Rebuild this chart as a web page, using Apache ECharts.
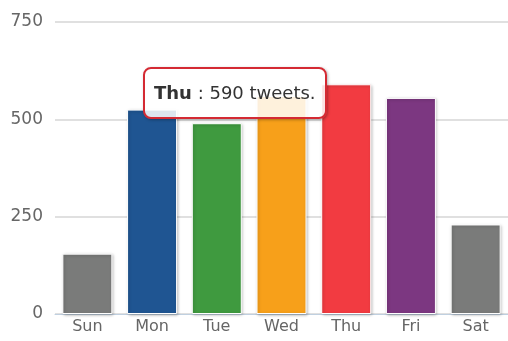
<!DOCTYPE html>
<html>
<head>
<meta charset="utf-8">
<script src="https://cdn.jsdelivr.net/npm/echarts@6/dist/echarts.min.js"></script>
<style>
  html, body { margin: 0; padding: 0; background: #fff; }
  #chart { width: 508px; height: 341px; }
</style>
</head>
<body>
<div id="chart"></div>
<script>
// Tweets per weekday
const days = ['Sun', 'Mon', 'Tue', 'Wed', 'Thu', 'Fri', 'Sat'];
const tweets = [155, 525, 490, 560, 590, 555, 230];
const yTicks = [0, 250, 500, 750];
const dayColors = ['#7a7b7a', '#1f5592', '#3f9a3f', '#f7a01a', '#f23b41', '#7c3781', '#7a7b7a'];

const chart = echarts.init(document.getElementById('chart'), null, { renderer: 'canvas' });
const font = '"DejaVu Sans", Verdana, sans-serif';

chart.setOption({
  animation: false,
  grid: { left: 55, right: -4, top: 22, bottom: 27, containLabel: false },
  xAxis: {
    type: 'category',
    data: days,
    axisLine: { lineStyle: { color: '#c0d0e0', width: 1 } },
    axisTick: { alignWithLabel: true, length: 5, lineStyle: { color: '#c0d0e0' } },
    axisLabel: { color: '#666', fontSize: 16, fontFamily: font, margin: 5 }
  },
  yAxis: {
    type: 'value',
    min: yTicks[0],
    max: yTicks[yTicks.length - 1],
    interval: yTicks[1] - yTicks[0],
    axisLine: { show: false },
    axisTick: { show: false },
    axisLabel: { color: '#666', fontSize: 17, fontFamily: font, margin: 12 },
    splitLine: { lineStyle: { color: '#d6d6d6', width: 1.5 } }
  },
  tooltip: {
    trigger: 'item',
    alwaysShowContent: true,
    transitionDuration: 0,
    showDelay: 0,
    backgroundColor: 'rgba(255,255,255,0.85)',
    borderColor: '#d42a33',
    borderWidth: 2,
    padding: [12, 9],
    textStyle: { color: '#333', fontSize: 18, fontFamily: font, lineHeight: 24 },
    extraCssText: 'border-radius:8px;box-shadow:1px 1px 3px rgba(0,0,0,0.3);',
    position: [143, 67],
    formatter: p => '<b>' + p.name + '</b> : ' + p.value + ' tweets.'
  },
  series: [{
    type: 'bar',
    barWidth: 50,
    data: tweets.map((v, i) => ({ value: v, itemStyle: { color: dayColors[i] } })),
    itemStyle: {
      borderColor: '#fff',
      borderWidth: 1,
      shadowColor: 'rgba(0,0,0,0.25)',
      shadowBlur: 3,
      shadowOffsetX: 1,
      shadowOffsetY: 1
    },
    emphasis: { disabled: true }
  }]
});

chart.dispatchAction({ type: 'showTip', seriesIndex: 0, dataIndex: days.indexOf('Thu') });
</script>
</body>
</html>
